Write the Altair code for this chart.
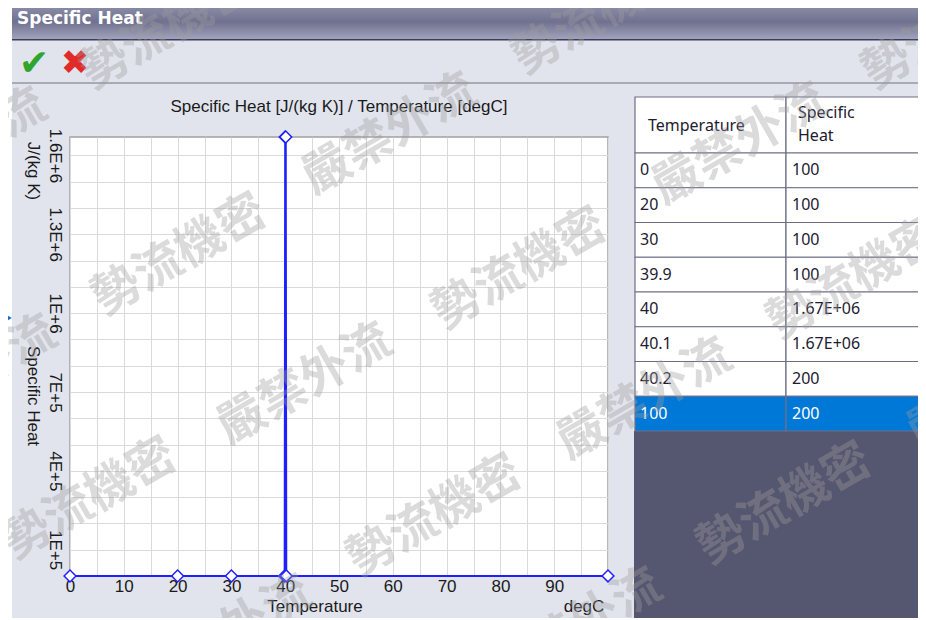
import altair as alt
import pandas as pd

# ---------------- data ----------------
TEMPERATURE = [0, 20, 30, 39.9, 40, 40.1, 40.2, 100]
SPECIFIC_HEAT = [100, 100, 100, 100, 1670000, 1670000, 200, 200]
SELECTED_ROW = 7

X_GRID = list(range(0, 101, 5))
X_LABELED = list(range(0, 91, 10))
Y_GRID = [100000 * i for i in range(1, 17)]
Y_LABEL_VALUES = [100000, 400000, 700000, 1000000, 1300000, 1600000]
Y_LABEL_TEXT = ["1E+5", "4E+5", "7E+5", "1E+6", "1.3E+6", "1.6E+6"]

WINDOW_TITLE = "Specific Heat"
CHART_TITLE = "Specific Heat [J/(kg K)] / Temperature [degC]"
Y_TITLE = "Specific Heat"
Y_UNIT = "J/(kg K)"
X_TITLE = "Temperature"
X_UNIT = "degC"
COL_HEADERS = ["Temperature", "Specific", "Heat"]
WATERMARK_A = "勢流機密"
WATERMARK_B = "嚴禁外流"

# ---------------- layout helpers (page pixel -> plot pixel) ----------------
PX0, PY0 = 70, 137          # page position of plot origin
PLOT_W, PLOT_H = 538, 439


def px(x):
    return x - PX0


def py(y):
    return y - PY0


ONE = pd.DataFrame({"k": [0]})


def rect(x1, y1, x2, y2, **mk):
    return alt.Chart(ONE).mark_rect(**mk).encode(
        x=alt.value(px(x1)), x2=alt.value(px(x2)),
        y=alt.value(py(y1)), y2=alt.value(py(y2)))


def label(s, x, y, **mk):
    return alt.Chart(ONE).mark_text(text=s, **mk).encode(
        x=alt.value(px(x)), y=alt.value(py(y)))


BG = "#e1e4ed"
BLUE = "#1f1fff"
GRIDC = "#dadada"
TBL_LINE = "#6e6e86"
SEL = "#0078d7"
DARK = "#55566f"
CHART_FONT = "Liberation Sans"
TABLE_FONT = "Noto Sans"

decor = [
    rect(8, 0, 12, 620, color="white"),
    rect(12, 0, 926, 40, fill=alt.LinearGradient(
        gradient="linear", x1=0, x2=0, y1=0, y2=1,
        stops=[alt.GradientStop(color="#9597b1", offset=0),
               alt.GradientStop(color="#6f718f", offset=0.55),
               alt.GradientStop(color="#a4a6be", offset=1)])),
    rect(12, 39, 926, 40.5, color="#3c3d5c"),
    rect(12, 82, 926, 84, color="#a9aab4"),
    label(WINDOW_TITLE, 17, 19, align="left", baseline="middle", font="DejaVu Sans",
          fontWeight="bold", fontSize=17, color="white"),
    label("✔", 34, 64, align="center", baseline="middle", font="DejaVu Sans",
          fontSize=36, color="#2fa52f"),
    label("✖", 75, 64, align="center", baseline="middle", font="DejaVu Sans",
          fontSize=34, color="#e32a2a"),
    alt.Chart(ONE).mark_point(shape="triangle-right", filled=True, size=180,
                              color="#1a6fc4", opacity=1).encode(
        x=alt.value(px(6)), y=alt.value(py(318))),
    label(CHART_TITLE, 339, 107, align="center", baseline="middle", font=CHART_FONT,
          fontSize=17, color="#1a1a1a"),
    label(Y_UNIT, 33, 171, align="center", baseline="middle", font=CHART_FONT,
          fontSize=17, color="#1a1a1a", angle=90),
    label(Y_TITLE, 33, 396, align="center", baseline="middle", font=CHART_FONT,
          fontSize=17, color="#1a1a1a", angle=90),
    label(X_TITLE, 315, 607, align="center", baseline="middle", font=CHART_FONT,
          fontSize=17, color="#1a1a1a"),
    label(X_UNIT, 584, 607, align="center", baseline="middle", font=CHART_FONT,
          fontSize=17, color="#1a1a1a"),
]

# ---------------- main chart ----------------
df = pd.DataFrame({"temperature": TEMPERATURE, "heat": SPECIFIC_HEAT,
                   "idx": list(range(len(TEMPERATURE)))})

x_label_expr = "indexof(" + str(X_LABELED) + ", datum.value) >= 0 ? datum.label : ''"
y_label_expr = "".join(
    f"datum.value == {v} ? '{t}' : " for v, t in zip(Y_LABEL_VALUES, Y_LABEL_TEXT)) + "''"

xenc = alt.X("temperature:Q",
             scale=alt.Scale(domain=[0, 100], nice=False, zero=False),
             axis=alt.Axis(values=X_GRID, labelExpr=x_label_expr, grid=True,
                           gridColor=GRIDC, gridWidth=1, domain=False, ticks=False,
                           tickSize=0, labelFont=CHART_FONT, labelFontSize=17,
                           labelColor="#1a1a1a", labelPadding=2, labelFlush=False,
                           labelOverlap=False, title=None))
yenc = alt.Y("heat:Q",
             scale=alt.Scale(domain=[100, 1670000], nice=False, zero=False),
             axis=alt.Axis(values=Y_GRID, labelExpr=y_label_expr, grid=True,
                           gridColor=GRIDC, gridWidth=1, domain=False, ticks=False,
                           tickSize=0, labelFont=CHART_FONT, labelFontSize=17,
                           labelColor="#1a1a1a", labelAngle=90, labelAlign="center",
                           labelBaseline="top", labelPadding=8, labelFlush=False,
                           labelOverlap=False, title=None))

line = alt.Chart(df).mark_line(color=BLUE, strokeWidth=2).encode(
    x=xenc, y=yenc, order="idx:Q")
pts = alt.Chart(df).mark_point(shape="diamond", filled=True, fill="white",
                               stroke=BLUE, strokeWidth=1.5, size=140,
                               opacity=1).encode(x=xenc, y=yenc)
chart = alt.layer(line, pts)

# ---------------- table ----------------
def fmt(v):
    return f"{v:.2E}" if v >= 100000 else f"{v:g}"


tdf = pd.DataFrame({
    "row": list(range(len(TEMPERATURE))),
    "temp_text": [fmt(v) for v in TEMPERATURE],
    "heat_text": [fmt(v) for v in SPECIFIC_HEAT],
    "selected": [i == SELECTED_ROW for i in range(len(TEMPERATURE))],
})
TOP, BOT = 153, 431
rowscale = alt.Scale(domain=[0, len(TEMPERATURE)], range=[py(TOP), py(BOT)],
                     nice=False, zero=False)
base = alt.Chart(tdf).transform_calculate(row_end="datum.row + 1",
                                          mid="datum.row + 0.5")
cell_fill = alt.condition("datum.selected", alt.value(SEL), alt.value("white"))
text_col = alt.condition("datum.selected", alt.value("white"), alt.value("#221a30"))

cells1 = base.mark_rect(stroke=TBL_LINE, strokeWidth=1.2).encode(
    x=alt.value(px(635)), x2=alt.value(px(786)),
    y=alt.Y("row:Q", scale=rowscale, axis=None), y2="row_end:Q", fill=cell_fill)
cells2 = base.mark_rect(stroke=TBL_LINE, strokeWidth=1.2).encode(
    x=alt.value(px(786)), x2=alt.value(px(940)),
    y=alt.Y("row:Q", scale=rowscale, axis=None), y2="row_end:Q", fill=cell_fill)
txt1 = base.mark_text(align="left", baseline="middle", font=TABLE_FONT,
                      fontSize=16).encode(
    x=alt.value(px(640)), y=alt.Y("mid:Q", scale=rowscale, axis=None),
    text="temp_text:N", color=text_col)
txt2 = base.mark_text(align="left", baseline="middle", font=TABLE_FONT,
                      fontSize=16).encode(
    x=alt.value(px(792)), y=alt.Y("mid:Q", scale=rowscale, axis=None),
    text="heat_text:N", color=text_col)
table = alt.layer(cells1, cells2, txt1, txt2)

table_decor = [
    rect(634, BOT, 940, 625, color=DARK),
    rect(635, 97, 786, TOP, color="white", stroke=TBL_LINE, strokeWidth=1.2),
    rect(786, 97, 940, TOP, color="white", stroke=TBL_LINE, strokeWidth=1.2),
    label(COL_HEADERS[0], 648, 126, align="left", baseline="middle", font=TABLE_FONT,
          fontSize=16, color="#221a30"),
    label(COL_HEADERS[1], 798, 113, align="left", baseline="middle", font=TABLE_FONT,
          fontSize=16, color="#221a30"),
    label(COL_HEADERS[2], 798, 136, align="left", baseline="middle", font=TABLE_FONT,
          fontSize=16, color="#221a30"),
]

# ---------------- watermark overlay ----------------
WM_POS = [
    (WATERMARK_B, -40, 150), (WATERMARK_A, 168, 30),
    (WATERMARK_B, -30, 377), (WATERMARK_A, 180, 256), (WATERMARK_B, 390, 135),
    (WATERMARK_A, 600, 15),
    (WATERMARK_A, 90, 500), (WATERMARK_B, 305, 385), (WATERMARK_A, 520, 270),
    (WATERMARK_B, 740, 145), (WATERMARK_A, 950, 30),
    (WATERMARK_B, 225, 637), (WATERMARK_A, 435, 517), (WATERMARK_B, 645, 400),
    (WATERMARK_A, 855, 280),
    (WATERMARK_B, 575, 630), (WATERMARK_A, 785, 505), (WATERMARK_B, 995, 390),
]
watermark = [
    label(s, x, y, align="center", baseline="middle", font="Noto Sans CJK TC",
          fontWeight="bold", fontSize=48, angle=330, color="#9d9d9d", opacity=0.36)
    for s, x, y in WM_POS
]

full = alt.layer(*decor, chart, *table_decor, table, *watermark).resolve_scale(
    x="independent", y="independent"
).properties(
    width=PLOT_W, height=PLOT_H,
    padding={"left": 62, "top": 129, "right": 310, "bottom": 42},
    autosize=alt.AutoSizeParams(type="none"),
    background=BG,
).configure_view(stroke="#a0a0a0", strokeWidth=1.5, fill="white")

full.save("out.html", embed_options={"renderer": "svg", "actions": False})
